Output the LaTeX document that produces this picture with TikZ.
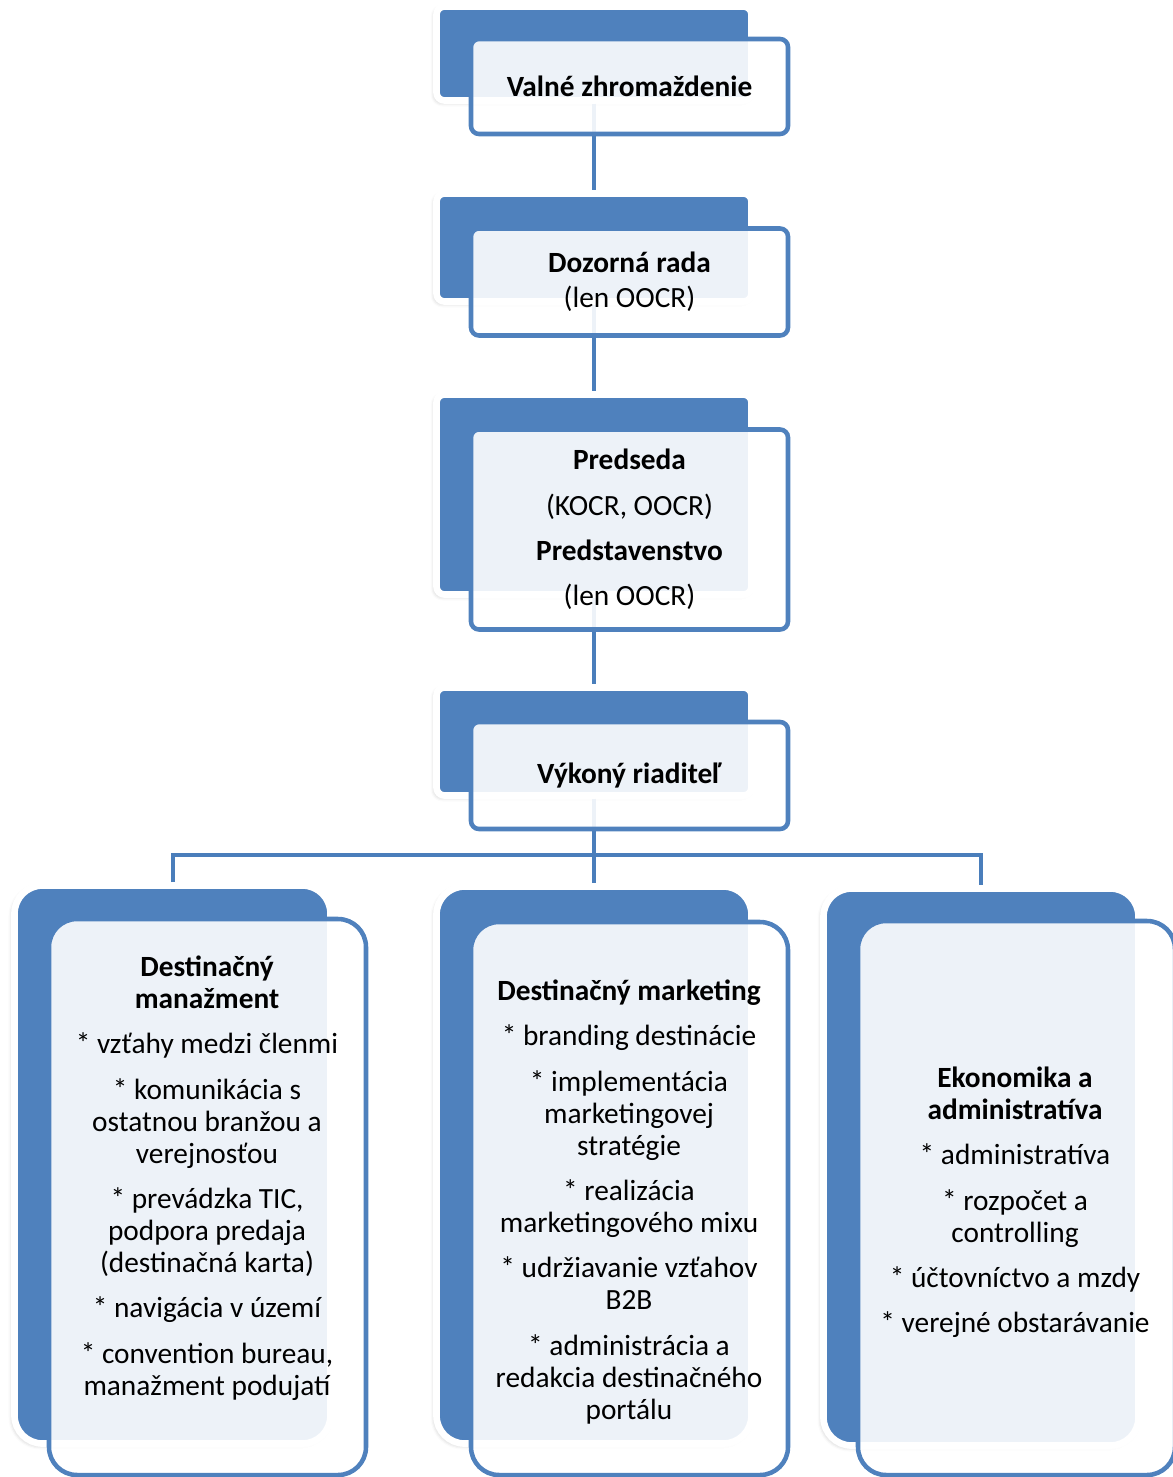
\documentclass[tikz,border=0pt]{standalone}
\usepackage{fontspec}
\setmainfont{Carlito}
\usetikzlibrary{positioning,shadows.blur}
\definecolor{boxblue}{HTML}{4F81BD}
\definecolor{lineblue}{HTML}{4A7EBB}

\begin{document}
\begin{tikzpicture}[x=0.75pt,y=-0.75pt,
    back/.style={draw=white,line width=5pt,fill=boxblue,rounded corners=6pt,
        minimum width=236.25pt,inner sep=0pt,
        blur shadow={shadow xshift=-1.5pt,shadow yshift=-1.5pt,shadow opacity=25,shadow blur radius=3pt}},
    front/.style={draw=boxblue,line width=3.4pt,fill=white,fill opacity=0.9,text opacity=1,
        rounded corners=6pt,minimum width=237.75pt,inner sep=0pt,align=center,
        font=\fontsize{22}{24}\selectfont},
    conn/.style={draw=lineblue,line width=3pt},
    txt/.style={align=center,font=\fontsize{22}{24}\selectfont}]
    \useasboundingbox (0,0) rectangle (1172,1477);

    % zadne bloky
    \node[back,minimum height=70.5pt] (valne) at (594,53.5) {};
    \node[back,minimum height=81pt] (dozor) at (594,247.5) {};
    \node[back,minimum height=150pt] (predseda) at (594,494.5) {};
    \node[back,minimum height=81pt] (riaditel) at (594,741.5) {};
    \node[back,rounded corners=21pt,minimum width=237pt,minimum height=418.5pt] (manazment) at (172.5,1164.5) {};
    \node[back,rounded corners=21pt,minimum height=417.75pt] (marketing) at (594,1165) {};
    \node[back,rounded corners=21pt,minimum height=417.75pt] (ekonomika) at (981,1167) {};

    % spojnice
    \draw[conn] (valne) -- (dozor);
    \draw[conn] (dozor) -- (predseda);
    \draw[conn] (predseda) -- (riaditel);
    \draw[conn] (riaditel) -- (marketing);
    \coordinate (bar) at (594,855);
    \draw[conn] (manazment) |- (bar) -| (ekonomika);

    % predne bloky
    \node[front,minimum height=71.25pt] (valneF) at (629.5,86.5) {\textbf{Valné zhromaždenie}};
    \node[front,minimum height=80.25pt] (dozorF) at (629.5,282) {\textbf{Dozorná rada}\\[2pt] (len OOCR)};
    \node[front,minimum height=150pt] (predsedaF) at (629.5,529.5) {\textbf{Predseda}\\[10pt] (KOCR, OOCR)\\[10pt] \textbf{Predstavenstvo}\\[10pt] (len OOCR)};
    \node[front,minimum height=80.25pt] (riaditelF) at (629.5,775.5) {\textbf{Výkoný riaditeľ}};
    \node[front,rounded corners=21pt,minimum height=417pt] (manazmentF) at (207.5,1197) {};
    \node[front,rounded corners=21pt,minimum height=414.75pt] (marketingF) at (629.5,1198.5) {};
    \node[front,rounded corners=21pt,minimum height=415.5pt] (ekonomikaF) at (1016.5,1198) {};

    % texty
    \node[txt] (manazmentTxt) at (207,1178) {\textbf{Destinačný}\\ \textbf{manažment}\\[10pt]
        * vzťahy medzi členmi\\[10pt]
        * komunikácia s\\ ostatnou branžou a\\ verejnosťou\\[10pt]
        * prevádzka TIC,\\ podpora predaja\\ (destinačná karta)\\[10pt]
        * navigácia v území\\[10pt]
        * convention bureau,\\ manažment podujatí};
    \node[txt] (marketingTxt) at (629,1202) {\textbf{Destinačný marketing}\\[10pt]
        * branding destinácie\\[10pt]
        * implementácia\\ marketingovej\\ stratégie\\[10pt]
        * realizácia\\ marketingového mixu\\[10pt]
        * udržiavanie vzťahov\\ B2B\\[10pt]
        * administrácia a\\ redakcia destinačného\\ portálu};
    \node[txt] (ekonomikaTxt) at (1015,1202.5) {\textbf{Ekonomika a}\\ \textbf{administratíva}\\[10pt]
        * administratíva\\[10pt]
        * rozpočet a\\ controlling\\[10pt]
        * účtovníctvo a mzdy\\[10pt]
        * verejné obstarávanie};
\end{tikzpicture}
\end{document}
